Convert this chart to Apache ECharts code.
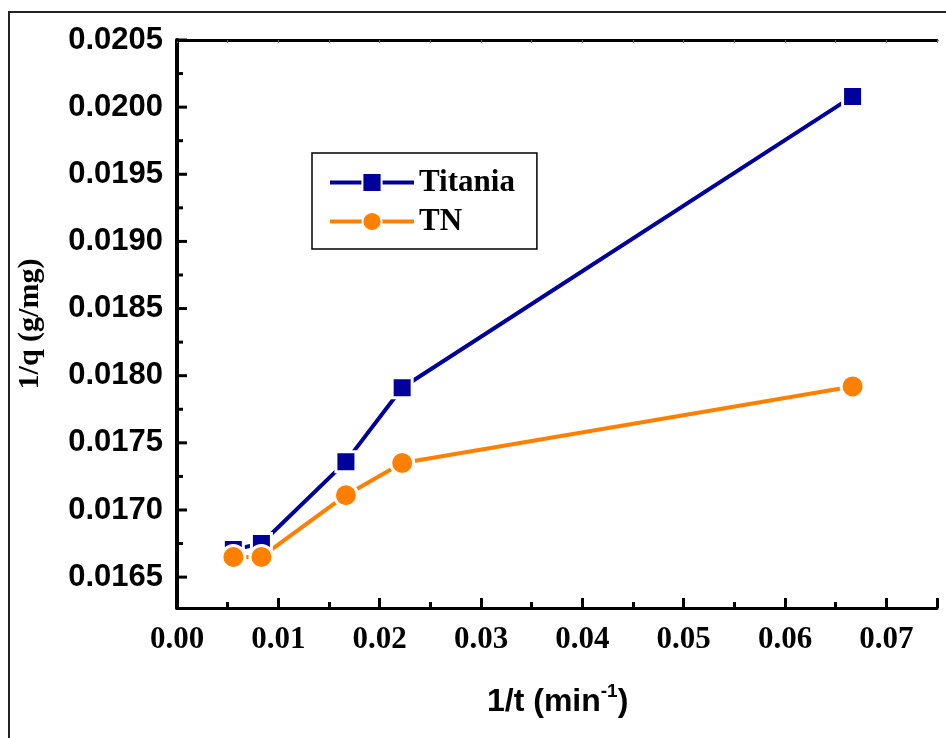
<!DOCTYPE html>
<html>
<head>
<meta charset="utf-8">
<script src="https://cdn.jsdelivr.net/npm/echarts@6/dist/echarts.min.js"></script>
<style>
  html, body { margin: 0; padding: 0; background: #fff; }
  #chart { width: 946px; height: 738px; }
</style>
</head>
<body>
<div id="chart"></div>
<script>
// Inverse contact time (1/min) and inverse uptake (g/mg)
const invTime = [0.00556, 0.00833, 0.01667, 0.02222, 0.06667];
const titania = [0.016705, 0.01675, 0.01736, 0.01791, 0.02008];
const tn = [0.01665, 0.01665, 0.01711, 0.01735, 0.01792];

const yMajorTicks = [0.0165, 0.0170, 0.0175, 0.0180, 0.0185, 0.0190, 0.0195, 0.0200, 0.0205];
const yMinorTicks = [0.01675, 0.01725, 0.01775, 0.01825, 0.01875, 0.01925, 0.01975, 0.02025];

const Y_MIN = 0.01627, Y_MAX = 0.0205;
const BLUE = '#00009C', ORANGE = '#FF8000';
const SANS = 'Liberation Sans, Arial, sans-serif';
const SERIF = 'Liberation Serif, Times New Roman, serif';

const pairs = (xs, ys) => xs.map((x, i) => [x, ys[i]]);

const chart = echarts.init(document.getElementById('chart'));
chart.setOption({
  animation: false,
  backgroundColor: '#fff',
  grid: { left: 177, top: 40, right: 9, bottom: 130, containLabel: false },
  graphic: [
    {
      id: 'frame', type: 'rect', silent: true, z: -1,
      shape: { x: 9, y: 12, width: 980, height: 780 },
      style: { fill: 'none', stroke: '#222', lineWidth: 2 }
    },
    {
      id: 'xtitle', type: 'text', left: 487, top: 682,
      style: {
        text: '{m|1/t (min}{s|-1}{m|)}',
        rich: {
          m: { fontFamily: SANS, fontWeight: 'bold', fontSize: 32, fill: '#000', verticalAlign: 'bottom', lineHeight: 36 },
          s: { fontFamily: SANS, fontWeight: 'bold', fontSize: 19, fill: '#000', verticalAlign: 'top', lineHeight: 36, padding: [0, 0, 16, 0] }
        }
      }
    }
  ],
  legend: {
    left: 312, top: 153, width: 225,
    orient: 'vertical',
    backgroundColor: '#fff',
    borderColor: '#000', borderWidth: 1.5, borderRadius: 0,
    padding: [14, 22, 12, 16],
    itemWidth: 84, itemHeight: 24, itemGap: 8,
    lineStyle: { width: 4 },
    textStyle: { fontFamily: SERIF, fontWeight: 'bold', fontSize: 31, color: '#000' },
    data: ['Titania', 'TN']
  },
  xAxis: [
    {
      type: 'value', min: 0, max: 0.075, interval: 0.01,
      axisLine: { show: true, lineStyle: { color: '#000', width: 3 } },
      axisTick: { show: true, inside: true, length: 10, lineStyle: { color: '#000', width: 3 } },
      minorTick: { show: true, splitNumber: 2, length: 6, lineStyle: { color: '#000', width: 3 } },
      splitLine: { show: false },
      axisLabel: {
        margin: 16, fontFamily: SERIF, fontWeight: 'bold', fontSize: 31, color: '#000',
        formatter: v => v.toFixed(2)
      }
    },
    {
      type: 'value', position: 'top', min: 0, max: 0.075, interval: 0.005,
      axisLine: { show: true, lineStyle: { color: '#000', width: 3 } },
      axisTick: { show: true, inside: true, length: 3, lineStyle: { color: '#666', width: 1 } },
      axisLabel: { show: false },
      splitLine: { show: false }
    }
  ],
  yAxis: [
    {
      type: 'value', position: 'left', offset: 0, min: Y_MIN, max: Y_MAX,
      axisLine: { show: true, lineStyle: { color: '#000', width: 3 } },
      axisTick: { show: false },
      splitLine: { show: false },
      axisLabel: {
        margin: 14, fontFamily: SANS, fontWeight: 'bold', fontSize: 31, color: '#000',
        customValues: yMajorTicks,
        formatter: v => v.toFixed(4)
      },
      name: '1/q (g/mg)', nameLocation: 'middle', nameGap: 132, nameRotate: 90,
      nameTextStyle: { fontFamily: SERIF, fontWeight: 'bold', fontSize: 30, color: '#000' }
    },
    {
      // right edge of the plot frame
      type: 'value', position: 'right', offset: 0, min: Y_MIN, max: Y_MAX,
      axisLine: { show: true, lineStyle: { color: '#000', width: 4 } },
      axisTick: { show: false },
      axisLabel: { show: false },
      splitLine: { show: false }
    }
  ],
  series: [
    {
      name: 'Titania', type: 'line', xAxisIndex: 0, yAxisIndex: 0,
      data: pairs(invTime, titania),
      symbol: 'rect', symbolSize: 20,
      lineStyle: { color: BLUE, width: 4 },
      itemStyle: { color: BLUE, borderColor: '#fff', borderWidth: 3 },
      emphasis: { disabled: true }
    },
    {
      name: 'TN', type: 'line', xAxisIndex: 0, yAxisIndex: 0,
      data: pairs(invTime, tn),
      symbol: 'circle', symbolSize: 23,
      lineStyle: { color: ORANGE, width: 4 },
      itemStyle: { color: ORANGE, borderColor: '#fff', borderWidth: 3 },
      emphasis: { disabled: true }
    }
  ]
});

// Inward tick marks on the left y axis, placed through the axis's own scale
function drawYTicks() {
  const x0 = chart.convertToPixel({ xAxisIndex: 0 }, 0);
  const marks = [];
  const add = (id, v, len) => {
    const y = chart.convertToPixel({ yAxisIndex: 0 }, v);
    marks.push({
      id: id, type: 'line', silent: true, z: 100,
      shape: { x1: x0, y1: y, x2: x0 + len, y2: y },
      style: { stroke: '#000', lineWidth: 3 }
    });
  };
  yMajorTicks.forEach((v, i) => add('ymaj' + i, v, 10));
  yMinorTicks.forEach((v, i) => add('ymin' + i, v, 6));
  chart.setOption({ graphic: marks });
}
drawYTicks();
</script>
</body>
</html>
